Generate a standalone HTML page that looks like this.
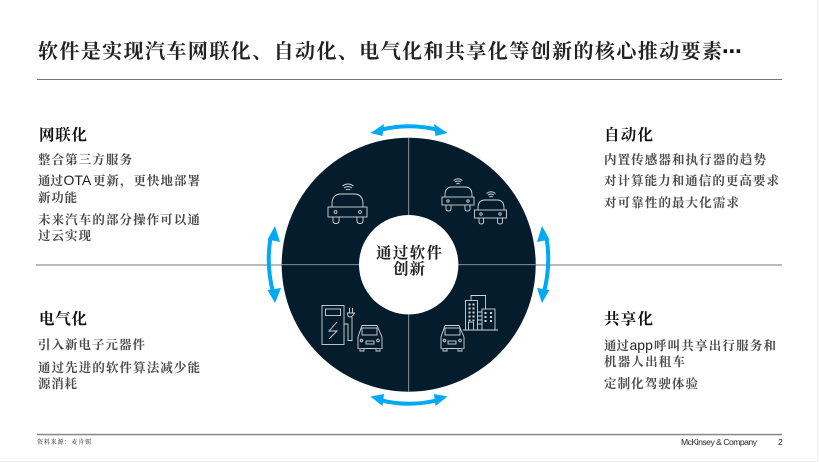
<!DOCTYPE html>
<html lang="zh">
<head>
<meta charset="utf-8">
<style>
html,body{margin:0;padding:0;background:#fff}
svg{display:block}
text{font-family:"Liberation Serif","Noto Serif CJK SC",serif;fill:#222}
.h{font-size:15.5px;font-weight:700;fill:#111}
.b{font-size:12.5px;font-weight:700;fill:#4a4a4a}
.l{font-family:"Liberation Sans",sans-serif;font-weight:400;fill:#222}
</style>
</head>
<body>
<svg width="820" height="462" viewBox="0 0 820 462" xmlns="http://www.w3.org/2000/svg">
<rect width="820" height="462" fill="#fff"/>
<path d="M817.5 0V461.5H0" fill="none" stroke="#eee"/>
<text x="38" y="58" font-size="20" font-weight="700" fill="#111" textLength="684" lengthAdjust="spacing">软件是实现汽车网联化、自动化、电气化和共享化等创新的核心推动要素</text>
<text x="722" y="58" font-size="20" font-weight="700" style="font-family:'DejaVu Sans',sans-serif;fill:#111" textLength="21">⋯</text>
<rect x="37" y="79" width="745" height="1" fill="#777"/>
<rect x="36" y="264.5" width="746" height="1" fill="#777"/>
<rect x="37" y="433.800" width="745" height="1.500" fill="#888"/>

<!-- circle -->
<circle cx="408.7" cy="264.7" r="127" fill="#051c2c"/>
<path d="M408.7 138V392M281.7 264.7H535.7" stroke="#98a2a9" stroke-width=".9"/>
<circle cx="408.7" cy="264.7" r="49.7" fill="#fff"/>

<!-- arrows -->
<g fill="none" stroke="#00a9f4" stroke-width="4">
<path d="M378 130.500Q409 122 440 130.500"/>
<path d="M378 399.500Q409 408 440 399.500"/>
<path d="M270.500 238Q266 265 273 292"/>
<path d="M546.500 238Q551 265 544 292"/>
</g>
<g fill="#00a9f4">
<path d="M370.500 133L384 124L382.500 136Z"/><path d="M447.500 133L434 124L435.500 136Z"/>
<path d="M370.500 396.500L384 394L382.500 406Z"/><path d="M447.500 396.500L434 394L435.500 406Z"/>
<path d="M275 226L280 242L267.500 239.500Z"/><path d="M275 303L281 288L267.500 290Z"/>
<path d="M542 226L537 242L549.500 239.500Z"/><path d="M542 303L537 288L549.500 290Z"/>
</g>

<!-- icons -->
<g fill="none" stroke="#cfd5d9" stroke-width=".9">
<!-- car 1 -->
<g>
<rect x="328" y="207" width="39" height="10"/>
<path d="M332 207V204Q332 194 341 194H354Q363 194 363 204V207"/>
<path d="M333 217V221Q333 223.500 336 223.500Q339 223.500 339 221V217M357 217V221Q357 223.500 360 223.500Q363 223.500 363 221V217"/>
<circle cx="335.500" cy="212" r="1.400"/><circle cx="360" cy="212" r="1.400"/>
<path d="M344 188Q348 185 352 188M342.500 186Q348 182 353.500 186M345.800 190Q348 188.500 350.200 190"/>
</g>
<!-- car 2 -->
<rect x="442" y="197" width="32" height="8"/>
<path d="M445 197V195Q445 187 452 187H465Q472 187 472 195V197"/>
<path d="M446 205V209Q446 211 448.500 211Q451 211 451 209V205M465 205V209Q465 211 467.500 211Q470 211 470 209V205"/>
<circle cx="448" cy="201" r="1.200"/><circle cx="468" cy="201" r="1.200"/>
<path d="M455 182Q458 180 461 182M453.500 180.500Q458 177 462.500 180.500M456.300 184Q458 183 459.700 184"/>
<!-- car 3 -->
<rect x="474.500" y="210" width="32" height="8"/>
<path d="M478 210V208Q478 200 485 200H497Q504 200 504 208V210"/>
<path d="M479 218V222Q479 224 481.300 224Q483.500 224 483.500 222V218M497.500 218V222Q497.500 224 500 224Q502.500 224 502.500 222V218"/>
<circle cx="481" cy="214" r="1.200"/><circle cx="500" cy="214" r="1.200"/>
<path d="M488 195Q491 193 494 195M486.500 193.500Q491 190 495.500 193.500M489.300 197Q491 196 492.700 197"/>
<!-- charger -->
<rect x="322" y="305.500" width="22" height="39"/>
<rect x="325.500" y="309" width="15" height="6.500"/>
<path d="M337 322L329 331H337L329 339"/>
<path d="M344 324H348V340.500H352V317"/>
<path d="M347.500 313Q347.500 317 350 317Q352.500 317 354.500 313H347.500ZM349.500 313V308M352.500 313V308"/>
<path d="M358 349V337L362 325.500H377L382 337V349Q382 348.500 370 348.500Q358 348.500 358 349Z"/>
<rect x="362" y="328" width="15" height="7"/>
<rect x="366" y="341" width="8" height="3"/>
<circle cx="361.500" cy="340.500" r="1.300"/><circle cx="378" cy="340.500" r="1.300"/>
<path d="M360 349V351H364V349M376 349V351H380V349"/>
<!-- share car + city -->
<path d="M441 349V337L445 325.500H459L464 337V349Q464 348.500 452 348.500Q441 348.500 441 349Z"/>
<rect x="445" y="328" width="15" height="7"/>
<rect x="448" y="341" width="8" height="3"/>
<circle cx="444.500" cy="340.500" r="1.300"/><circle cx="460" cy="340.500" r="1.300"/>
<path d="M443 349V351H447V349M458 349V351H462V349"/>
<path d="M463 330H498"/>
<rect x="465.500" y="300.500" width="12" height="29.500"/>
<path d="M473.500 330V322H468.500V330M471 300.500V295.500H485.500V309M477.500 312H482M477.500 316H482M477.500 320H482M477.500 324H482"/>
<rect x="482" y="309" width="13" height="21"/>
<g stroke-width="2" stroke-dasharray="2 2">
<path d="M469.500 303.500V321M473.500 303.500V321M485.500 312V323M491 312V323"/>
</g>
</g>

<!-- centre -->
<g font-size="15.500" font-weight="700">
<text x="376" y="258" fill="#111" textLength="66">通过软件</text>
<text x="393" y="274" fill="#111" textLength="32">创新</text>
</g>

<!-- top left -->
<text class="h" x="39" y="140" textLength="48">网联化</text>
<text class="b" x="38" y="164" textLength="94">整合第三方服务</text>
<text class="b" x="38" y="185" textLength="25">通过</text>
<text class="l" x="63.500" y="185" font-size="14">OTA</text>
<text class="b" x="93" y="185" textLength="107">更新，更快地部署</text>
<text class="b" x="38" y="202" textLength="39">新功能</text>
<text class="b" x="38" y="224" textLength="162">未来汽车的部分操作可以通</text>
<text class="b" x="38" y="240" textLength="53">过云实现</text>

<!-- top right -->
<text class="h" x="604" y="140" textLength="49">自动化</text>
<text class="b" x="604" y="164" textLength="162">内置传感器和执行器的趋势</text>
<text class="b" x="604" y="185" textLength="175">对计算能力和通信的更高要求</text>
<text class="b" x="604" y="207" textLength="135">对可靠性的最大化需求</text>

<!-- bottom left -->
<text class="h" x="39" y="324" textLength="48">电气化</text>
<text class="b" x="38" y="349" textLength="107">引入新电子元器件</text>
<text class="b" x="38" y="372" textLength="162">通过先进的软件算法减少能</text>
<text class="b" x="38" y="388" textLength="39">源消耗</text>

<!-- bottom right -->
<text class="h" x="604" y="324" textLength="49">共享化</text>
<text class="b" x="604" y="350" textLength="25">通过</text>
<text class="l" x="629.500" y="350" font-size="14">app</text>
<text class="b" x="654" y="350" textLength="122">呼叫共享出行服务和</text>
<text class="b" x="604" y="366" textLength="81">机器人出租车</text>
<text class="b" x="604" y="388" textLength="94">定制化驾驶体验</text>

<!-- footer -->
<text x="37" y="444" font-size="6" fill="#333" textLength="54">资料来源：麦肯锡</text>
<text class="l" x="681" y="445" font-size="8.600" fill="#222" textLength="76">McKinsey &amp; Company</text>
<text class="l" x="778" y="445" font-size="8.600" fill="#222">2</text>
</svg>
</body>
</html>
